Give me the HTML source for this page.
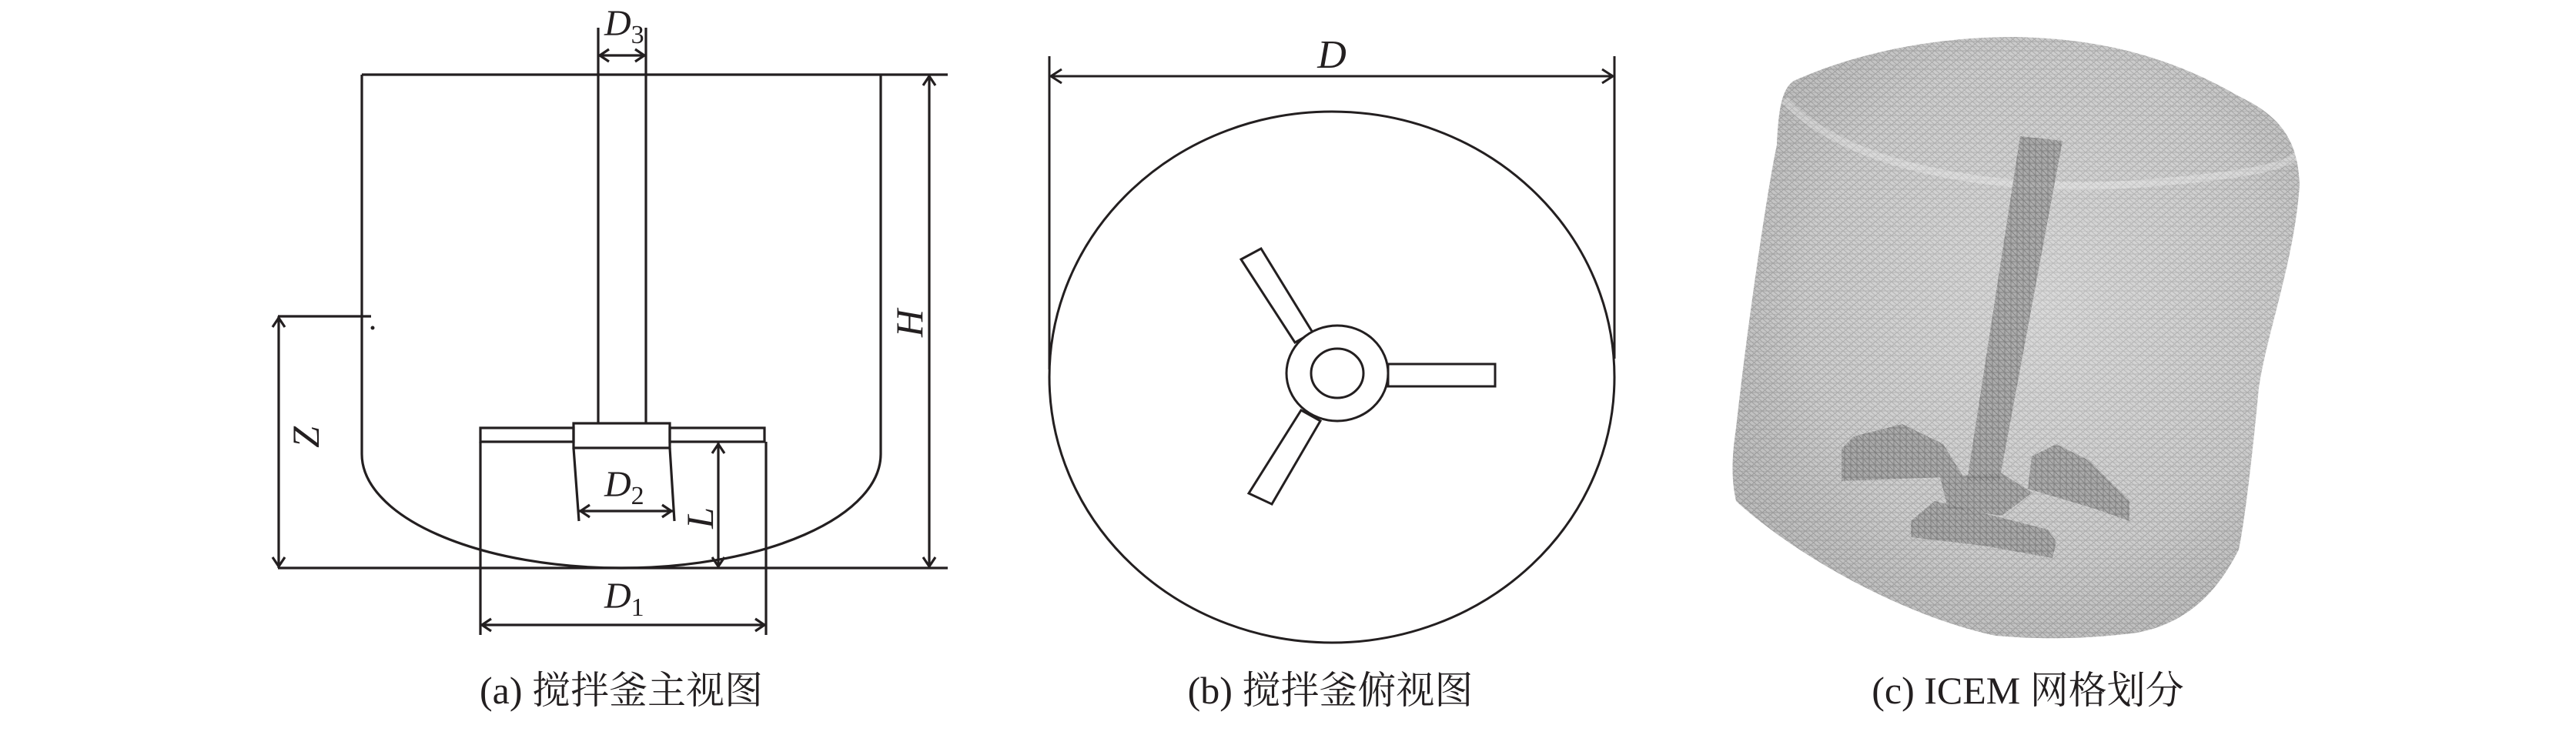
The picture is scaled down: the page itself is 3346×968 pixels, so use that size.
<!DOCTYPE html>
<html><head><meta charset="utf-8"><style>
html,body{margin:0;padding:0;background:#fff;}
svg{display:block;}
.t{font-family:"Liberation Serif","Noto Serif CJK SC",serif;font-style:italic;fill:#231f20;}
.c{font-family:"Liberation Serif","Noto Serif CJK SC",serif;fill:#231f20;font-size:50px;}
</style></head><body>
<svg width="3346" height="968" viewBox="0 0 3346 968" xmlns="http://www.w3.org/2000/svg">
<defs>
<pattern id="mesh" width="14" height="12" patternUnits="userSpaceOnUse">
<rect width="14" height="12" fill="#c9c9c9"/>
<path d="M0 0L14 0M0 6L14 6M0 0L7 6L14 0M0 12L7 6L14 12M0 6L7 12M14 6L7 0" stroke="#a4a4a4" stroke-width="1" fill="none"/>
</pattern>
<pattern id="mesh2" width="8" height="8" patternUnits="userSpaceOnUse">
<rect width="8" height="8" fill="#a0a0a0"/>
<path d="M0 0L8 8M0 4L8 4M4 0L4 8" stroke="#6a6a6a" stroke-width="1" fill="none"/>
</pattern>
<radialGradient id="shade" cx="0.55" cy="0.45" r="0.6">
<stop offset="0" stop-color="#fff" stop-opacity="0.3"/>
<stop offset="0.7" stop-color="#fff" stop-opacity="0.08"/>
<stop offset="1" stop-color="#000" stop-opacity="0.06"/>
</radialGradient>
</defs>

<!-- Panel a -->
<g stroke="#231f20" stroke-width="3.2" fill="none">
<path d="M470 97H1231"/>
<path d="M470 97V590"/>
<path d="M1144 97V590"/>
<path d="M470 590A337 148 0 0 0 1144 590"/>
<path d="M777 36V550M839 36V550"/>
<path d="M777 72H839"/>
<path d="M791 64L779 72L791 80M825 64L837 72L825 80"/>
<rect x="745" y="550" width="125" height="32" fill="#fff"/>
<rect x="624" y="556" width="121" height="18"/>
<rect x="870" y="556" width="123" height="18"/>
<path d="M624 574V825M995 574V825"/>
<path d="M624 812H995"/>
<path d="M638 804L626 812L638 820M981 804L993 812L981 820"/>
<path d="M745 582L752 677M870 582L876 677"/>
<path d="M752 664H874"/>
<path d="M766 656L754 664L766 672M860 656L872 664L860 672"/>
<path d="M933 575V738"/>
<path d="M925 589L933 577L941 589M925 724L933 736L941 724"/>
<path d="M361 738H1231"/>
<path d="M361 411H482"/>
<path d="M362 411V738"/>
<path d="M354 425L362 413L370 425M354 724L362 736L370 724"/>
<path d="M1207 97V738"/>
<path d="M1199 111L1207 99L1215 111M1199 724L1207 736L1215 724"/>
</g>
<circle cx="484" cy="426" r="2.5" fill="#231f20"/>
<text class="t" x="785" y="46" font-size="48">D<tspan font-size="34" font-style="normal" dy="10">3</tspan></text>
<text class="t" x="785" y="645" font-size="48">D<tspan font-size="34" font-style="normal" dy="10">2</tspan></text>
<text class="t" x="785" y="790" font-size="48">D<tspan font-size="34" font-style="normal" dy="10">1</tspan></text>
<text class="t" font-size="50" transform="translate(926,673) rotate(-90)" text-anchor="middle">L</text>
<text class="t" font-size="50" transform="translate(414,568) rotate(-90)" text-anchor="middle">Z</text>
<text class="t" font-size="50" transform="translate(1198,420) rotate(-90)" text-anchor="middle">H</text>
<text class="c" x="807" y="914" text-anchor="middle">(a) 搅拌釜主视图</text>

<!-- Panel b -->
<g stroke="#231f20" stroke-width="3" fill="none">
<path d="M1363 73V480M2097 73V466"/>
<path d="M1363 99H2097"/>
<path d="M1379 90L1365 99L1379 108M2081 90L2095 99L2081 108"/>
<ellipse cx="1730" cy="490" rx="367" ry="345"/>
<polygon points="1612,337 1638,323 1705,432 1682,445" fill="#fff"/>
<polygon points="1690,533 1715,547 1652,655 1622,641" fill="#fff"/>
<rect x="1803" y="473" width="139" height="29" fill="#fff"/>
<ellipse cx="1737" cy="485" rx="66" ry="62" fill="#fff"/>
<ellipse cx="1737" cy="485" rx="34" ry="32"/>
</g>
<text class="t" x="1730" y="88" font-size="52" text-anchor="middle">D</text>
<text class="c" x="1728" y="914" text-anchor="middle">(b) 搅拌釜俯视图</text>

<!-- Panel c -->
<path d="M2618 48 C2700 50 2800 62 2908 125 C2960 150 2985 180 2987 240 C2980 340 2945 430 2934 504 C2925 600 2915 680 2908 714 C2880 770 2840 810 2776 822 C2700 832 2640 830 2592 826 C2470 800 2330 720 2255 651 C2248 620 2250 590 2255 556 C2270 420 2295 250 2308 188 C2310 140 2315 115 2330 105 C2420 65 2520 48 2618 48Z" fill="url(#mesh)"/>
<path d="M2618 48 C2700 50 2800 62 2908 125 C2960 150 2985 180 2987 240 C2980 340 2945 430 2934 504 C2925 600 2915 680 2908 714 C2880 770 2840 810 2776 822 C2700 832 2640 830 2592 826 C2470 800 2330 720 2255 651 C2248 620 2250 590 2255 556 C2270 420 2295 250 2308 188 C2310 140 2315 115 2330 105 C2420 65 2520 48 2618 48Z" fill="url(#shade)"/>
<path d="M2318 130 C2400 220 2600 250 2760 240 C2880 232 2970 220 2985 200" stroke="#fff" stroke-opacity="0.25" stroke-width="10" fill="none"/>
<polygon points="2624,177 2679,183 2597,625 2555,625" fill="url(#mesh2)" opacity="0.75"/>
<polygon points="2392,583 2408,567 2471,551 2524,577 2550,619 2392,625" fill="url(#mesh2)" opacity="0.75"/>
<polygon points="2639,593 2671,577 2713,598 2766,651 2766,677 2724,662 2634,635" fill="url(#mesh2)" opacity="0.75"/>
<polygon points="2482,677 2513,651 2660,688 2671,704 2666,725 2576,709 2482,698" fill="url(#mesh2)" opacity="0.75"/>
<polygon points="2520,620 2600,615 2640,640 2600,670 2530,660" fill="url(#mesh2)" opacity="0.75"/>
<text class="c" x="2634" y="914" text-anchor="middle">(c) ICEM 网格划分</text>
</svg>
</body></html>
